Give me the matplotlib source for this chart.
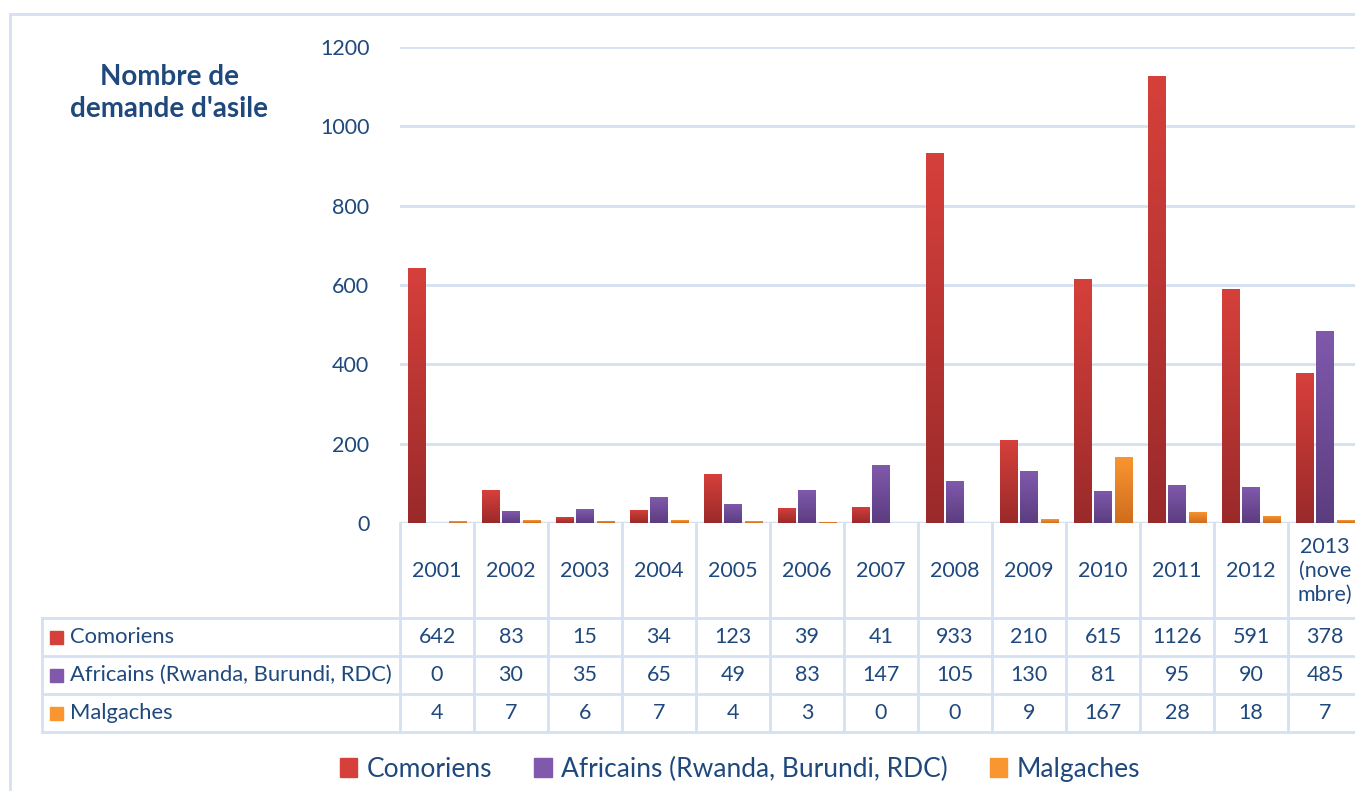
import numpy as np
import matplotlib
matplotlib.use("Agg")
import matplotlib.pyplot as plt
from matplotlib.colors import LinearSegmentedColormap
from matplotlib.patches import Rectangle
from matplotlib.lines import Line2D
from matplotlib.transforms import blended_transform_factory

# donnees
annees = ["2001", "2002", "2003", "2004", "2005", "2006", "2007",
          "2008", "2009", "2010", "2011", "2012", "2013\n(nove\nmbre)"]
series = ["Comoriens", "Africains (Rwanda, Burundi, RDC)", "Malgaches"]
comoriens = [642, 83, 15, 34, 123, 39, 41, 933, 210, 615, 1126, 591, 378]
africains = [0, 30, 35, 65, 49, 83, 147, 105, 130, 81, 95, 90, 485]
malgaches = [4, 7, 6, 7, 4, 3, 0, 0, 9, 167, 28, 18, 7]
yticks = [0, 200, 400, 600, 800, 1000, 1200]

# couleurs (haut, bas) pour le degrade
couleurs = [("#D6403B", "#9A2A2A"), ("#8059AC", "#5C3D80"), ("#FA962F", "#CF6D1F")]
texte = "#1F497D"
grille = "#D5E1F1"

plt.rcParams['font.family'] = ['Lato', 'DejaVu Sans']

W, H = 1355, 791
fig = plt.figure(figsize=(W / 100, H / 100), dpi=100)

# axes du graphique (en pixels: x 400 -> 1355, y 47 -> 523)
ax = fig.add_axes([400 / W, 1 - 523 / H, 955 / W, 476 / H])
col = 74.0  # largeur d'une colonne en pixels
xmax = -0.5 + 955 / col
ax.set_xlim(-0.5, xmax)
ax.set_ylim(0, 1200)

x = np.arange(len(annees))
larg = 0.236
pas = 0.277
valeurs = [comoriens, africains, malgaches]
for k, vals in enumerate(valeurs):
    haut, bas = couleurs[k]
    cmap = LinearSegmentedColormap.from_list("g%d" % k, [bas, haut])
    bars = ax.bar(x + (k - 1) * pas, vals, width=larg, color=haut, zorder=3)
    grad = np.linspace(0, 1, 100).reshape(-1, 1)
    for b in bars:
        if b.get_height() <= 0:
            continue
        x0 = b.get_x()
        im = ax.imshow(grad, cmap=cmap, origin="lower", aspect="auto",
                       extent=(x0, x0 + b.get_width(), 0, b.get_height()), zorder=4)
        im.set_clip_path(b)

ax.set_xlim(-0.5, xmax)
ax.set_ylim(0, 1200)
ax.set_yticks(yticks)
ax.set_yticklabels([str(v) for v in yticks], color=texte, fontsize=15.5)
ax.tick_params(axis="y", length=0, pad=22)
ax.set_xticks([])
ax.grid(axis="y", color=grille, linewidth=2, zorder=0)
for s in ax.spines.values():
    s.set_visible(False)
ax.axhline(0, color=grille, linewidth=2.5, zorder=2)

# tableau de donnees sous le graphique
tr = blended_transform_factory(ax.transData, ax.transAxes)
def ya(py):
    return (523 - py) / 476.0

gauche = -0.5 - 358 / col
lignes = [ya(618), ya(656), ya(694), ya(732)]
for yy in lignes:
    ax.add_line(Line2D([gauche, 13], [yy, yy], transform=tr, color=grille,
                       linewidth=2, clip_on=False))
for i in range(len(annees) + 1):
    ax.add_line(Line2D([i - 0.5, i - 0.5], [0, lignes[-1]], transform=tr,
                       color=grille, linewidth=2, clip_on=False))
ax.add_line(Line2D([gauche, gauche], [lignes[0], lignes[-1]], transform=tr,
                   color=grille, linewidth=2, clip_on=False))

for i, a in enumerate(annees):
    ax.text(i, ya(571), a, transform=tr, ha="center", va="center",
            color=texte, fontsize=15.5, linespacing=1.25, clip_on=False)

centres = [ya(637), ya(675), ya(713)]
for k, vals in enumerate(valeurs):
    for i, v in enumerate(vals):
        ax.text(i, centres[k], str(v), transform=tr, ha="center", va="center",
                color=texte, fontsize=15.5, clip_on=False)
    ax.text(gauche + 28 / col, centres[k], series[k], transform=tr, ha="left",
            va="center", color=texte, fontsize=15.8, clip_on=False)
    haut, bas = couleurs[k]
    fig.patches.append(Rectangle((50 / W, 1 - (637 + 38 * k + 7) / H), 13 / W, 13 / H,
                                 transform=fig.transFigure, color=haut, zorder=5))

# titre
fig.text(169 / W, 1 - 93 / H, "Nombre de\ndemande d'asile", ha="center", va="center",
         color=texte, fontsize=20, fontweight="bold", linespacing=1.28)

# legende
poignees = [Rectangle((0, 0), 1, 1, color=c[0]) for c in couleurs]
fig.legend(poignees, series, loc="center", bbox_to_anchor=(740 / W, 1 - 769 / H),
           ncol=3, frameon=False, fontsize=19, labelcolor=texte,
           handlelength=0.65, handleheight=0.7, handletextpad=0.35, columnspacing=1.6)

# cadre exterieur
fig.add_artist(Line2D([10 / W, 10 / W], [0, 1 - 14 / H], transform=fig.transFigure,
                      color=grille, linewidth=2))
fig.add_artist(Line2D([10 / W, 1], [1 - 14 / H, 1 - 14 / H], transform=fig.transFigure,
                      color=grille, linewidth=2))

fig.savefig("out.png", dpi=100)
